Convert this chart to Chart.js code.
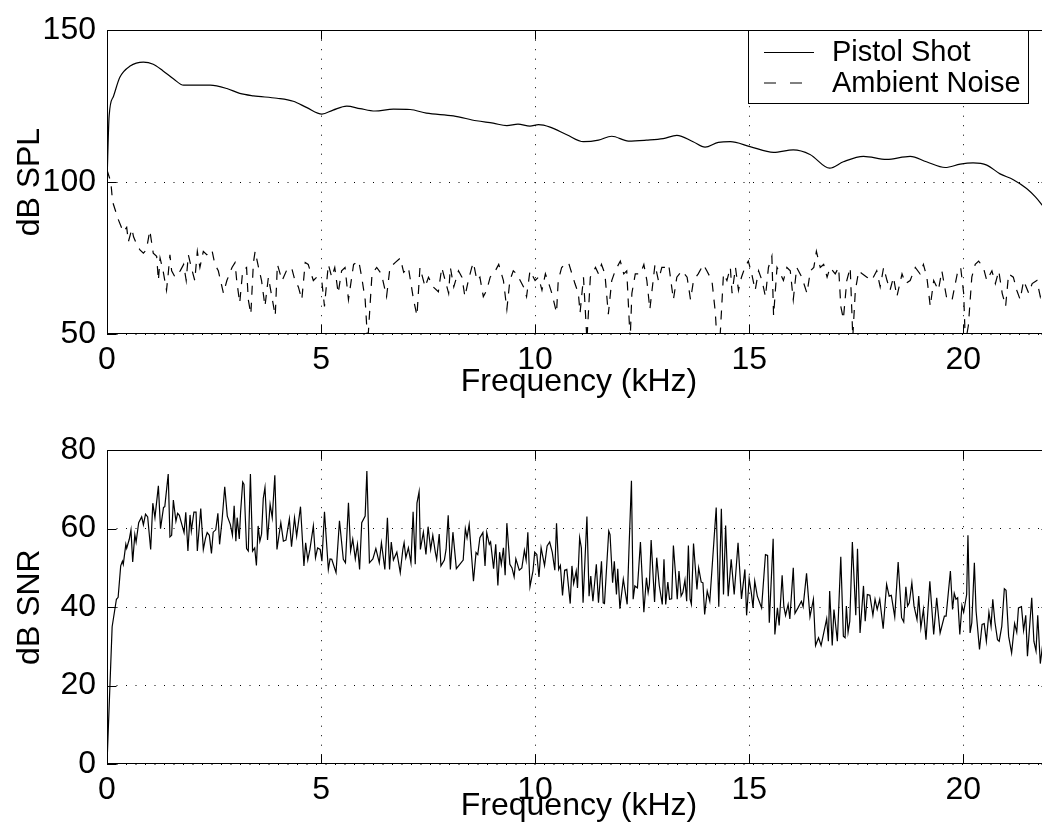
<!DOCTYPE html>
<html><head><meta charset="utf-8">
<script src="https://cdn.jsdelivr.net/npm/chart.js@4.4.1/dist/chart.umd.min.js"></script>
<style>
html,body{margin:0;padding:0;background:#fff;overflow:hidden;width:1042px;height:839px;}
canvas{position:absolute;left:0;display:block;}
#c1{top:0}
#c2{top:420px}
</style></head><body>
<canvas id="c1" width="1052" height="420"></canvas>
<canvas id="c2" width="1052" height="419"></canvas>
<script>
// ---------------- data ----------------
const xTicks = [0, 5, 10, 15, 20];
const splTicks = [50, 100, 150];
const snrTicks = [0, 20, 40, 60, 80];
const seriesLabels = ['Pistol Shot', 'Ambient Noise'];

const pistolFreq = [0,0.05,0.15,0.30,0.54,0.85,1.08,1.31,1.55,1.79,2.17,2.41,2.80,3.10,3.42,3.97,4.35,4.67,5.02,5.28,5.60,5.91,6.26,6.69,7.08,7.46,8.09,8.63,9.02,9.34,9.60,9.88,10.08,10.35,10.74,11.13,11.48,11.79,12.18,12.60,12.99,13.31,13.69,13.97,14.28,14.56,15.02,15.57,16.03,16.42,16.88,17.20,17.67,18.21,18.76,19.14,19.58,19.93,20.23,20.55,20.86,21.17,21.48,21.68,21.87];
const pistolDb = [100,121.8,128.2,134.5,138.2,139.5,138.8,136.6,134,131.9,131.9,131.9,130.8,129.2,128.4,127.6,126.6,124.5,122.4,123.7,125,124.2,123.4,124,123.9,122.7,121.8,120.2,119.4,118.6,119.1,118.4,118.9,118.1,115.6,113.3,113.8,115.1,113.5,113.8,114.3,115.4,113.3,111.5,113.1,113.3,111.7,109.8,110.6,109.1,104.6,106.7,108.5,107.5,108.5,106.7,104.8,105.9,106.3,105.6,102.7,100.8,97.9,95.2,92];

const noiseFreq = [0,0.09,0.13,0.26,0.38,0.46,0.50,0.58,0.62,0.70,0.77,0.85,0.92,1.00,1.08,1.16,1.20,1.24,1.31,1.39,1.43,1.47,1.51,1.59,1.71,1.79,1.85,1.90,1.97,2.05,2.11,2.17,2.25,2.33,2.45,2.52,2.60,2.72,2.80,2.92,2.99,3.03,3.10,3.17,3.26,3.30,3.36,3.42,3.46,3.54,3.61,3.69,3.77,3.85,3.93,3.98,4.09,4.19,4.31,4.39,4.47,4.55,4.63,4.70,4.82,4.90,5.02,5.08,5.17,5.25,5.32,5.40,5.48,5.56,5.64,5.76,5.88,5.95,6.03,6.09,6.19,6.30,6.41,6.53,6.61,6.73,6.85,6.93,7.04,7.16,7.24,7.31,7.43,7.51,7.62,7.74,7.82,7.90,7.98,8.02,8.10,8.21,8.29,8.36,8.44,8.52,8.56,8.64,8.71,8.79,8.87,8.95,9.07,9.15,9.26,9.34,9.41,9.49,9.57,9.73,9.80,9.88,10.00,10.08,10.16,10.24,10.32,10.39,10.50,10.54,10.62,10.70,10.78,10.86,10.93,11.01,11.05,11.13,11.21,11.29,11.41,11.48,11.55,11.63,11.71,11.79,11.87,11.99,12.07,12.14,12.22,12.26,12.34,12.46,12.54,12.61,12.68,12.80,12.88,12.96,13.04,13.12,13.23,13.31,13.43,13.55,13.63,13.70,13.81,13.93,14.01,14.13,14.21,14.25,14.32,14.40,14.48,14.56,14.60,14.68,14.75,14.82,14.90,14.98,15.06,15.14,15.22,15.30,15.38,15.45,15.53,15.57,15.65,15.73,15.80,15.88,15.96,16.03,16.11,16.23,16.35,16.43,16.51,16.57,16.66,16.74,16.82,16.89,17.01,17.09,17.14,17.20,17.28,17.36,17.42,17.48,17.56,17.64,17.75,17.86,17.98,18.06,18.14,18.22,18.29,18.37,18.45,18.57,18.65,18.76,18.88,18.99,19.07,19.15,19.23,19.31,19.42,19.50,19.62,19.74,19.86,19.94,20.01,20.05,20.12,20.20,20.28,20.36,20.47,20.55,20.67,20.75,20.83,20.91,20.99,21.06,21.17,21.25,21.33,21.41,21.53,21.61,21.72,21.80,21.87];
const noiseDb = [104,100.0,93.6,87.8,83.6,85.1,80.4,84.6,82.0,79.3,77.7,76.6,77.7,84.1,76.6,75.6,67.6,75.0,70.8,64.4,69.8,76.1,70.8,68.7,70.8,72.9,67.6,76.1,71.9,67.6,77.2,71.9,77.2,76.1,77.7,72.9,70.8,63.4,67.6,71.9,73.5,67.6,60.2,70.8,71.9,61.3,56.5,73.5,77.2,71.9,67.6,59.1,68.7,62.3,56.0,72.9,67.6,70.8,71.9,67.6,65.5,61.3,73.5,72.9,67.6,68.7,67.1,59.1,72.9,68.7,71.9,63.4,70.8,71.9,61.3,72.9,74.0,68.7,61.3,47,69.8,71.9,69.8,62.3,71.9,73.5,75.0,70.3,71.9,61.3,56.0,71.9,65.5,68.7,65.5,63.9,71.9,67.6,63.4,71.9,65.5,70.8,68.7,62.3,67.6,71.9,73.5,67.6,68.7,62.3,64.4,68.7,70.8,72.9,67.6,58.1,67.6,70.8,69.8,65.5,62.3,70.8,67.6,68.7,64.4,69.8,66.6,63.4,57.0,67.6,71.9,72.9,73.5,69.8,66.6,63.4,57.0,68.7,48,68.7,71.9,69.8,72.9,69.8,56.5,67.6,70.8,74.0,69.8,70.8,48,63.4,69.8,69.8,72.9,67.6,58.1,72.9,67.6,71.9,71.9,72.9,61.3,68.7,70.8,68.7,61.3,67.6,69.8,72.9,70.8,67.6,57.0,47,49,69.8,67.6,71.9,63.4,71.9,64.4,68.7,71.9,74.0,69.8,64.4,70.8,67.6,62.3,71.9,75.6,56.0,71.9,69.8,67.6,71.9,70.8,61.3,71.9,68.7,63.4,70.8,71.9,77.2,71.9,72.9,68.7,71.9,69.8,71.9,59.1,54.9,67.6,71.9,49,64.4,70.8,69.8,68.7,67.6,70.8,65.5,71.9,67.6,64.4,68.7,62.3,69.8,66.6,67.6,71.9,69.8,72.9,68.7,59.1,67.6,64.4,70.8,61.3,61.3,69.8,71.9,63.4,47,52.8,68.7,72.9,74.0,71.9,67.6,70.8,66.6,70.8,63.4,59.1,69.8,68.7,64.4,61.3,67.6,63.4,66.6,67.6,62.3,66];

const snrFreq = [0,0.12,0.22,0.26,0.32,0.36,0.38,0.44,0.46,0.52,0.56,0.60,0.65,0.68,0.74,0.81,0.85,0.90,0.95,1.02,1.07,1.12,1.20,1.25,1.32,1.35,1.43,1.47,1.51,1.55,1.61,1.65,1.69,1.80,1.84,1.89,1.94,1.97,2.03,2.08,2.11,2.19,2.25,2.30,2.34,2.39,2.44,2.48,2.54,2.59,2.63,2.69,2.75,2.81,2.88,2.93,2.97,3.01,3.04,3.09,3.12,3.17,3.20,3.26,3.30,3.35,3.40,3.45,3.49,3.53,3.57,3.61,3.65,
3.69,3.75,3.81,3.86,3.92,3.97,4.06,4.12,4.18,4.26,4.31,4.38,4.43,4.52,4.60,4.64,4.69,4.74,4.82,4.87,4.92,4.98,5.02,5.08,5.17,5.21,5.25,5.35,5.43,5.52,5.57,5.64,5.69,5.74,5.80,5.85,5.90,5.95,6.03,6.07,6.13,6.21,6.28,6.36,6.41,6.49,6.55,6.60,6.64,6.69,6.77,6.85,6.91,6.94,6.98,7.04,7.10,7.15,7.20,7.24,7.29,
7.32,7.39,7.45,7.50,7.56,7.61,7.67,7.70,7.76,7.80,7.88,7.92,7.97,8.02,8.08,8.16,8.24,8.32,8.37,8.41,8.46,8.56,8.62,8.66,8.71,8.78,8.83,8.87,8.93,8.96,9.03,9.08,9.13,9.17,9.21,9.26,9.30,9.34,9.41,9.46,9.51,9.55,9.63,9.69,9.75,9.79,9.83,9.88,9.95,9.99,10.04,10.09,10.14,10.22,10.28,10.34,10.40,10.46,10.50,10.55,10.59,10.64,10.69,10.74,10.82,10.86,10.90,10.96,
10.99,11.04,11.08,11.12,11.21,11.26,11.30,11.35,11.43,11.48,11.55,11.59,11.62,11.72,11.75,11.81,11.85,11.90,11.93,11.98,12.06,12.15,12.19,12.25,12.29,12.33,12.39,12.46,12.54,12.60,12.64,12.67,12.71,12.79,12.84,12.90,12.97,13.01,13.05,13.10,13.14,13.19,13.23,13.28,13.32,13.36,13.41,13.45,13.50,13.54,13.58,13.62,13.65,13.70,13.78,13.82,13.88,13.92,13.96,14.02,14.08,14.23,14.29,14.35,14.40,14.45,
14.51,14.58,14.65,14.74,14.82,14.90,14.94,15.00,15.05,15.09,15.13,15.19,15.29,15.38,15.43,15.47,15.56,15.60,15.66,15.70,15.77,15.81,15.85,15.91,15.95,16.03,16.07,16.14,16.22,16.26,16.34,16.42,16.50,16.55,16.62,16.68,16.81,16.85,16.88,16.94,16.98,17.06,17.14,17.20,17.24,17.27,17.31,17.35,17.41,17.49,17.53,17.59,17.67,17.71,17.76,17.82,17.89,17.94,17.99,18.05,18.13,
18.21,18.27,18.32,18.40,18.48,18.56,18.61,18.66,18.70,18.74,18.80,18.85,18.92,18.96,19.01,19.07,19.13,19.22,19.31,19.38,19.46,19.56,19.60,19.70,19.75,19.79,19.83,19.87,19.92,19.97,20.01,20.08,20.11,20.16,20.20,20.26,20.30,20.38,20.44,20.49,20.54,20.60,20.65,20.69,20.74,20.80,20.84,20.90,20.96,21.00,21.06,21.13,21.20,21.25,21.29,21.36,21.41,21.46,21.50,21.60,21.65,21.70,21.74,21.80,21.85,21.92];
const snrDb = [0,35,42,42.5,50.5,51.7,50.9,56,55,57.3,59.7,51.5,58.5,56.6,61.5,63,61,63.7,63,54.7,66.5,62.8,70.9,60,65.4,65.6,73.9,57.9,58.3,67.3,61.9,63.9,63.4,59,64.2,54.3,63.5,59.4,64.2,64.2,54.3,65.1,54.7,57.5,59,58.3,53.7,59.1,59.7,63.9,56,62.4,70.7,63.2,61.1,58.3,65.8,56.8,62.8,57.4,64.1,71.9,71.3,54.9,54.3,73.9,54.3,55.1,50.6,60.7,56.8,58.6,67.7,
70.5,57.1,66.2,62.8,73.6,54.7,61.5,56.8,57.1,62.5,55.4,62.8,58.1,65.6,50.5,56.4,52,54.7,60.7,52.6,55.1,54.7,51.7,64.3,49.6,52.3,52.2,48.8,62,52.2,51.3,66.6,54.3,57.3,52.3,56,49.6,61.5,63.2,74.7,51.3,52.3,54.9,51.3,56.4,49.6,62.8,49.6,56.6,52,54,48.8,54.7,56.4,52.6,55.1,51.3,64.3,50.9,66.5,69.4,
54.7,59.1,53.4,60.5,54.7,58.3,53.9,52.2,58.6,50.5,52,54.7,63.4,49.6,59.1,49.8,50.9,52,60,57.7,61.1,46.6,53.9,53.4,57.7,59,50.5,59,56,56.6,49.8,56,45.5,54,50.9,55.1,48.1,61.4,50.9,50,47.7,52.3,49.4,50,54.5,52,59.1,45.2,49.2,54,53.4,47.7,55.1,50.6,55.6,56.6,54,49.4,61.4,49.6,50.6,43,49.4,49.6,40.9,50.5,46,49.2,
44.9,57.7,55.1,41.1,63.1,42.8,47.9,41.5,50.9,41.1,51.7,41.1,40.9,59.4,58.5,46.2,51.7,43.2,49.8,39.6,47.1,40.7,53.9,72.2,42,45.4,44.9,56.6,38.7,47.5,43.7,45.8,57.1,41.3,52.6,45.5,40.7,52.2,40.7,46.4,42,42.1,55.7,48.3,42,49.2,42.8,43.7,46.9,41.5,55.7,42,40.7,56.2,44.5,50,46.4,46.2,38.1,44.1,41.5,65.4,40.1,65.1,43.2,60.8,
42.8,52.2,43.2,56.4,42.1,49.6,37.9,47.2,43.7,39.8,46.6,42.8,39.8,53.4,53.2,36,57.4,33,39.8,35.3,48.1,40.1,37.9,40.7,37,50,38.4,39.8,41.5,40.1,48.6,37.5,42,30.2,32.2,30.2,37,31.3,44.1,30.2,39.4,31.3,52.8,32.6,32.2,40.3,33.6,36.4,56.6,37.9,54.9,33.4,45.4,36.4,43.2,43,37.9,42,39.4,42,34.5,
45.8,42.8,43,37.5,51.5,37.3,36.2,45.2,40.3,41.1,46.2,40.3,36.8,42.8,34.7,39.4,31.7,46.6,33,42.4,33.4,37.7,37.7,49.2,39.4,43.5,42,42.4,33,40.4,38.7,43.2,58.3,33.4,36,51.3,39,29.2,35.6,35.8,31.3,38.7,35.1,42,36.2,31.7,31.3,35.1,44.7,44.3,32.6,28.3,35.8,33.6,39.8,40.1,34.1,37.9,27.5,42.4,31.3,28.8,37.9,25.6,30,24];

// ---------------- styling ----------------
const FAMILY = '"Liberation Sans", Arial, Helvetica, sans-serif';
const FS = 32;          // axes text
const FS_LEGEND = 29;   // legend text (90% of axes)
const font = {family: FAMILY, size: FS};

function pts(xs, ys) { return xs.map((x, i) => ({x: x, y: ys[i]})); }

const framePlugin = {
  id: 'matlabFrame',
  afterDraw(chart, args, opts) {
    const {ctx, chartArea: a, scales} = chart;
    ctx.save();
    ctx.setLineDash([]);
    ctx.strokeStyle = '#000';
    ctx.lineWidth = 1;
    const L = Math.round(a.left) + 0.5, R = Math.round(a.right) - 0.5;
    const T = Math.round(a.top) + 0.5, B = Math.round(a.bottom) - 0.5;
    ctx.strokeRect(L, T, R - L, B - T);
    const len = 9;
    ctx.beginPath();
    scales.x.ticks.forEach(t => {
      const x = Math.round(scales.x.getPixelForValue(t.value)) + 0.5;
      ctx.moveTo(x, B); ctx.lineTo(x, B - len);
      ctx.moveTo(x, T); ctx.lineTo(x, T + len);
    });
    scales.y.ticks.forEach(t => {
      const y = Math.round(scales.y.getPixelForValue(t.value)) + 0.5;
      ctx.moveTo(L, y); ctx.lineTo(L + len, y);
      ctx.moveTo(R, y); ctx.lineTo(R - len, y);
    });
    ctx.stroke();
    if (opts && opts.legend) {
      const bx = 748.5, by = 30.5, bw = 280, bh = 73;
      ctx.fillStyle = '#fff';
      ctx.fillRect(bx, by, bw, bh);
      ctx.strokeRect(bx, by, bw, bh);
      const rows = [52, 82.5];
      chart.data.datasets.forEach((ds, i) => {
        ctx.beginPath();
        ctx.lineWidth = 1;
        ctx.setLineDash(ds.legendDash || []);
        ctx.moveTo(764, rows[i] + 0.5); ctx.lineTo(814, rows[i] + 0.5);
        ctx.stroke();
        ctx.setLineDash([]);
        ctx.fillStyle = '#000';
        ctx.font = FS_LEGEND + 'px ' + FAMILY;
        ctx.textBaseline = 'middle';
        ctx.textAlign = 'left';
        ctx.fillText(ds.label, 832, rows[i] + 1);
      });
    }
    ctx.restore();
  }
};

function makeScales(yMin, yMax, yTicks, yTitle, xHeight, xTitlePad) {
  return {
    x: {
      type: 'linear', min: 0, max: 22.05,
      afterBuildTicks: s => { s.ticks = xTicks.map(v => ({value: v})); },
      afterFit: s => { s.height = xHeight; },
      grid: {color: '#000', lineWidth: 1, drawTicks: false},
      border: {display: false, dash: [1, 8.5]},
      ticks: {color: '#000', font: font, padding: 7, maxRotation: 0, autoSkip: false},
      title: {display: true, text: 'Frequency (kHz)', color: '#000', font: font, padding: {top: 0, bottom: xTitlePad}}
    },
    y: {
      type: 'linear', min: yMin, max: yMax,
      afterBuildTicks: s => { s.ticks = yTicks.map(v => ({value: v})); },
      afterFit: s => { s.width = 107; },
      grid: {color: '#000', lineWidth: 1, drawTicks: false},
      border: {display: false, dash: [1, 8.5]},
      ticks: {color: '#000', font: font, padding: 11, autoSkip: false},
      title: {display: true, text: yTitle, color: '#000', font: font, padding: {top: 11, bottom: 0}}
    }
  };
}

const common = {
  responsive: false,
  animation: false,
  devicePixelRatio: 1,
  events: [],
  elements: {point: {radius: 0}},
};

new Chart(document.getElementById('c1'), {
  type: 'line',
  data: {
    datasets: [
      {label: seriesLabels[0], data: pts(pistolFreq, pistolDb), borderColor: '#000', borderWidth: 1.2,
       cubicInterpolationMode: 'monotone', pointRadius: 0, fill: false, legendDash: []},
      {label: seriesLabels[1], data: pts(noiseFreq, noiseDb), borderColor: '#000', borderWidth: 1.2,
       borderDash: [9, 8], tension: 0, pointRadius: 0, fill: false, legendDash: [12, 14]}
    ]
  },
  options: Object.assign({}, common, {
    layout: {padding: {top: 19, left: 0, right: 1, bottom: 0}},
    scales: makeScales(50, 150, splTicks, 'dB SPL', 86, 19),
    plugins: {legend: {display: false}, tooltip: {enabled: false}, matlabFrame: {legend: true}}
  }),
  plugins: [framePlugin]
});

new Chart(document.getElementById('c2'), {
  type: 'line',
  data: {
    datasets: [
      {label: 'SNR', data: pts(snrFreq, snrDb), borderColor: '#000', borderWidth: 1.2,
       tension: 0, pointRadius: 0, fill: false}
    ]
  },
  options: Object.assign({}, common, {
    layout: {padding: {top: 29, left: 0, right: 1, bottom: 0}},
    scales: makeScales(0, 80, snrTicks, 'dB SNR', 75, 14),
    plugins: {legend: {display: false}, tooltip: {enabled: false}, matlabFrame: {legend: false}}
  }),
  plugins: [framePlugin]
});
</script>
</body></html>
